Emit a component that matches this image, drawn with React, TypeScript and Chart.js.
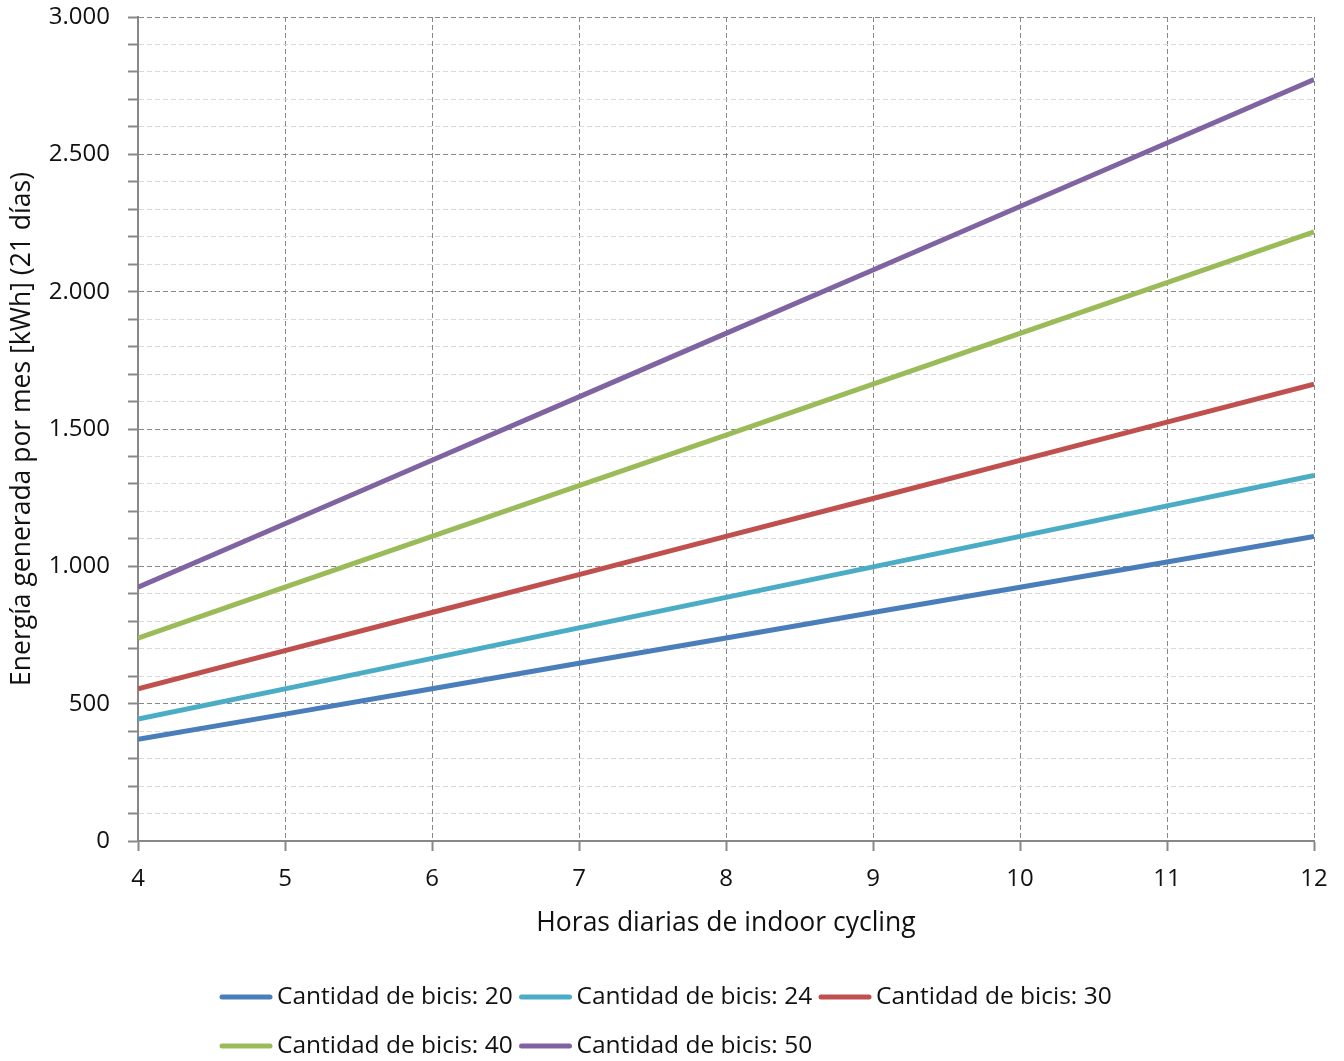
import React, { useEffect, useRef } from "react";
import { Chart, registerables } from "chart.js";

Chart.register(...registerables);

const hours = [4, 5, 6, 7, 8, 9, 10, 11, 12];
const seriesLabels = [
  "Cantidad de bicis: 20",
  "Cantidad de bicis: 24",
  "Cantidad de bicis: 30",
  "Cantidad de bicis: 40",
  "Cantidad de bicis: 50",
];
const bikes20 = [370, 462, 554, 647, 739, 832, 924, 1016, 1109];
const bikes24 = [444, 554, 665, 776, 887, 998, 1109, 1220, 1331];
const bikes30 = [554, 693, 832, 970, 1109, 1247, 1386, 1525, 1663];
const bikes40 = [739, 924, 1109, 1294, 1478, 1663, 1848, 2033, 2218];
const bikes50 = [924, 1155, 1386, 1617, 1848, 2079, 2310, 2541, 2772];
const seriesValues = [bikes20, bikes24, bikes30, bikes40, bikes50];
const seriesColors = ["#4A7EBB", "#4BACC6", "#C0504D", "#9BBB59", "#8064A2"];

const xTitle = "Horas diarias de indoor cycling";
const yTitle = "Energía generada por mes [kWh] (21 días)";

const FONT = "'Open Sans', 'DejaVu Sans', sans-serif";
const TEXT = "#111111";
const AXIS = "#888888";
const MINOR = "#d9d9d9";

const fmt = (v: number) => String(v).replace(/\B(?=(\d{3})+(?!\d))/g, ".");

const gridLegend = {
  id: "gridLegend",
  afterDraw(chart: any) {
    const ctx = chart.ctx;
    ctx.save();
    chart.data.datasets.forEach((ds: any, i: number) => {
      const col = i % 3;
      const row = Math.floor(i / 3);
      const x0 = 219 + col * 299.5;
      const y = 997 + row * 49;
      ctx.strokeStyle = ds.borderColor;
      ctx.lineWidth = 5;
      ctx.lineCap = "round";
      ctx.beginPath();
      ctx.moveTo(x0 + 3, y);
      ctx.lineTo(x0 + 51, y);
      ctx.stroke();
      ctx.fillStyle = TEXT;
      ctx.font = `24.5px ${FONT}`;
      ctx.textBaseline = "middle";
      ctx.textAlign = "left";
      ctx.fillText(ds.label, x0 + 58, y);
    });
    ctx.restore();
  },
};

export default function App() {
  const ref = useRef<HTMLCanvasElement>(null);
  useEffect(() => {
    if (!ref.current) return;
    const chart = new Chart(ref.current, {
      type: "line",
      data: {
        datasets: seriesValues.map((vals, i) => ({
          label: seriesLabels[i],
          data: hours.map((h, j) => ({ x: h, y: vals[j] })),
          borderColor: seriesColors[i],
          backgroundColor: seriesColors[i],
          borderWidth: 5,
          pointRadius: 0,
          tension: 0,
          fill: false,
        })),
      },
      options: {
        animation: false,
        responsive: false,
        layout: { padding: { left: 0, top: 17, right: 30, bottom: 120 } },
        plugins: {
          legend: { display: false },
          tooltip: { enabled: false },
        },
        scales: {
          x: {
            type: "linear",
            min: 4,
            max: 12,
            afterFit: (scale: any) => {
              scale.height = 100;
              scale.paddingLeft = 0;
              scale.paddingRight = 0;
            },
            ticks: {
              stepSize: 1,
              autoSkip: false,
              maxRotation: 0,
              padding: 14,
              color: TEXT,
              font: { family: FONT, size: 24 },
            },
            grid: {
              color: AXIS,
              lineWidth: 1,
              tickLength: 10,
              tickColor: AXIS,
              tickWidth: 2,
            },
            border: { display: true, color: AXIS, width: 2, dash: [5, 3] },
            title: {
              display: true,
              text: xTitle,
              color: TEXT,
              font: { family: FONT, size: 26.5 },
              padding: { top: 0, bottom: 2 },
            },
          },
          y: {
            type: "linear",
            min: 0,
            max: 3000,
            afterFit: (scale: any) => {
              scale.width = 138;
              scale.paddingTop = 0;
              scale.paddingBottom = 0;
            },
            ticks: {
              stepSize: 100,
              autoSkip: false,
              padding: 18,
              color: TEXT,
              font: { family: FONT, size: 24 },
              callback: (v: any) => (Number(v) % 500 === 0 ? fmt(Number(v)) : ""),
            },
            grid: {
              color: (c: any) => (c.tick && c.tick.value % 500 === 0 ? AXIS : MINOR),
              lineWidth: 1,
              tickLength: 10,
              tickColor: AXIS,
              tickWidth: 2,
            },
            border: { display: true, color: AXIS, width: 2, dash: [5, 3] },
            title: {
              display: true,
              text: yTitle,
              color: TEXT,
              font: { family: FONT, size: 26.5 },
              padding: { top: 7, bottom: 0 },
            },
          },
        },
      },
      plugins: [gridLegend],
    });
    return () => chart.destroy();
  }, []);
  return (
    <div style={{ position: "absolute", left: 0, top: 0, width: 1344, height: 1061, background: "#fff" }}>
      <canvas ref={ref} width={1344} height={1061} />
    </div>
  );
}
